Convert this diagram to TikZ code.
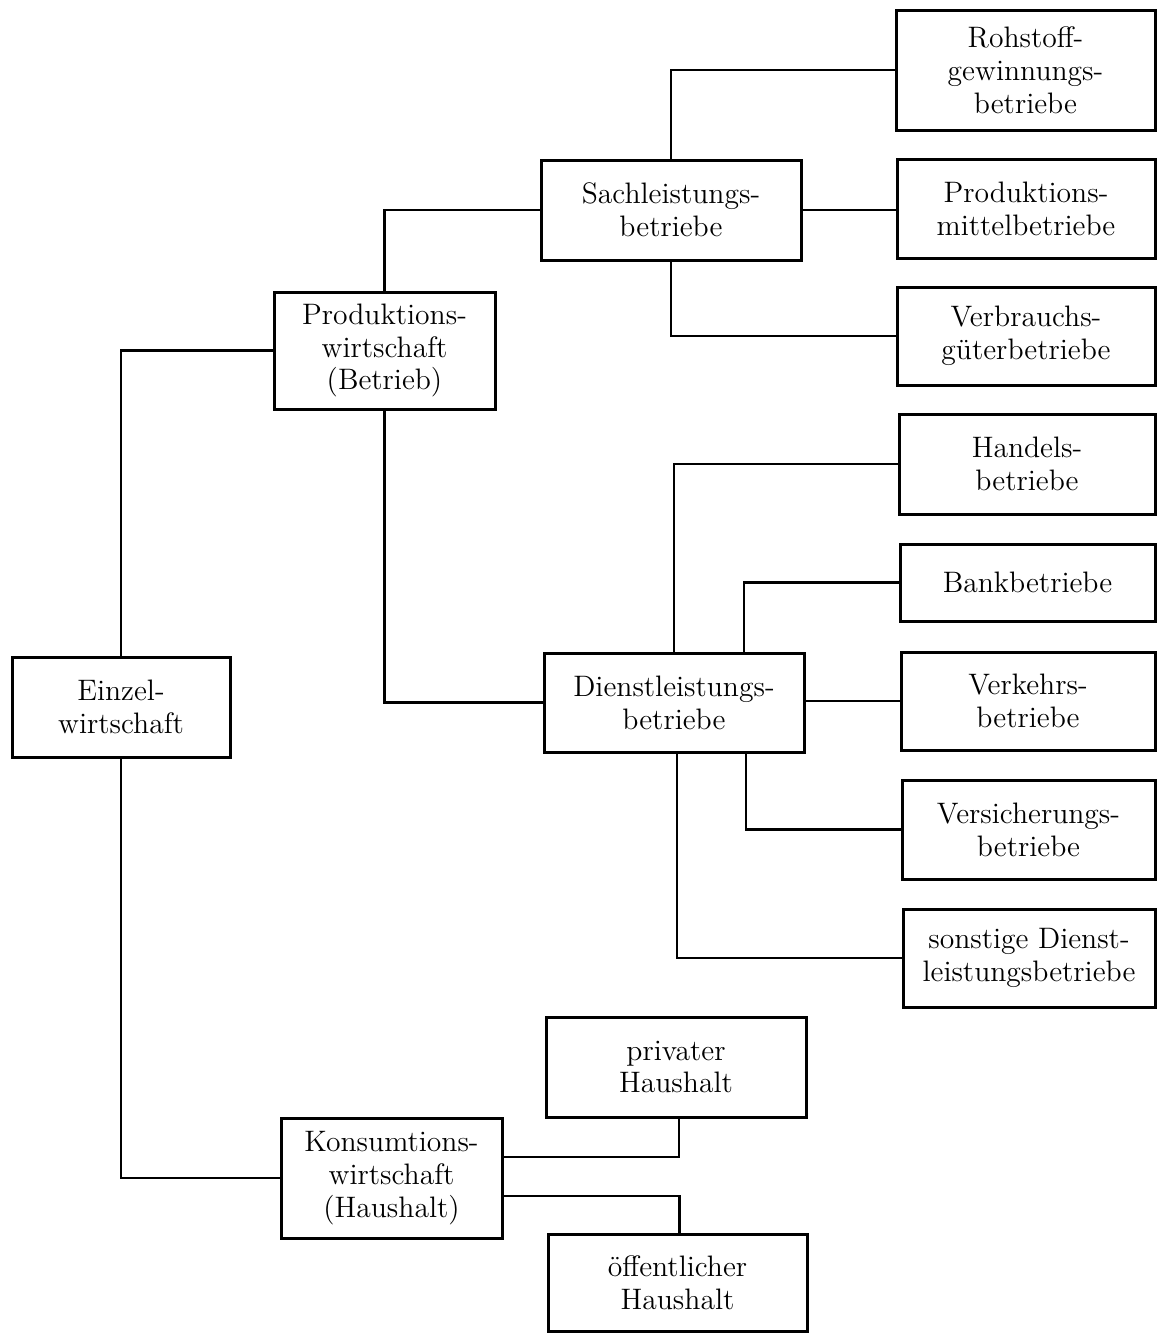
\documentclass[tikz,border=0pt]{standalone}
\begin{document}
\begin{tikzpicture}[x=0.5pt,y=-0.5pt,
  box/.style={draw,line width=1.5pt,rectangle,align=center,inner sep=0pt,
    font=\fontsize{14.8}{16.4}\selectfont},
  conn/.style={line width=1.1pt}]
\useasboundingbox (0,0) rectangle (1157,1333);
% level 0
\node[box,minimum width=109pt,minimum height=50pt] (ein) at (121,707) {Einzel-\\wirtschaft};
% level 1
\node[box,minimum width=110.5pt,minimum height=58.5pt] (prod) at (384.5,350.5) {Produktions-\\wirtschaft\\(Betrieb)};
\node[box,minimum width=110.5pt,minimum height=60pt] (kons) at (391.5,1178) {Konsumtions-\\wirtschaft\\(Haushalt)};
% level 2
\node[box,minimum width=130pt,minimum height=50pt] (sach) at (671,210) {Sachleistungs-\\betriebe};
\node[box,minimum width=130pt,minimum height=49.5pt] (dien) at (674,702.5) {Dienstleistungs-\\betriebe};
\node[box,minimum width=130pt,minimum height=50pt] (priv) at (676,1067) {privater\\Haushalt};
\node[box,minimum width=129.5pt,minimum height=48.5pt] (oeff) at (677.5,1283) {öffentlicher\\Haushalt};
% level 3
\node[box,minimum width=129.5pt,minimum height=60pt] (roh) at (1025.5,70) {Rohstoff-\\gewinnungs-\\betriebe};
\node[box,minimum width=129pt,minimum height=49.5pt] (pmb) at (1026,208.5) {Produktions-\\mittelbetriebe};
\node[box,minimum width=129pt,minimum height=49pt] (vgb) at (1026,336) {Verbrauchs-\\güterbetriebe};
\node[box,minimum width=128pt,minimum height=50pt] (han) at (1027,464) {Handels-\\betriebe};
\node[box,minimum width=127.5pt,minimum height=38.5pt] (bank) at (1027.5,582.5) {Bankbetriebe};
\node[box,minimum width=127pt,minimum height=49pt] (verk) at (1028,701) {Verkehrs-\\betriebe};
\node[box,minimum width=126.5pt,minimum height=49.5pt] (vers) at (1028.5,829.5) {Versicherungs-\\betriebe};
\node[box,minimum width=126pt,minimum height=49pt] (sonst) at (1029,958) {sonstige Dienst-\\leistungsbetriebe};
% connectors
\draw[conn] (ein.north) |- (prod.west);
\draw[conn] (ein.south) |- (kons.west);
\draw[conn] (prod.north) |- (sach.west);
\draw[conn] (prod.south) |- (dien.west);
\draw[conn] (sach.north) |- (roh.west);
\draw[conn] (sach.east) -- (pmb.west |- sach.east);
\draw[conn] (sach.south) |- (vgb.west);
\draw[conn] (dien.north) |- (han.west);
\draw[conn] ([xshift=35pt]dien.north) |- (bank.west);
\draw[conn] (verk.west) -- (dien.east |- verk.west);
\draw[conn] ([xshift=36pt]dien.south) |- (vers.west);
\draw[conn] ([xshift=1.5pt]dien.south) |- (sonst.west);
\draw[conn] ([yshift=10.5pt]kons.east) -| ([xshift=1.5pt]priv.south);
\draw[conn] ([yshift=-9pt]kons.east) -| ([xshift=1pt]oeff.north);
\end{tikzpicture}
\end{document}
